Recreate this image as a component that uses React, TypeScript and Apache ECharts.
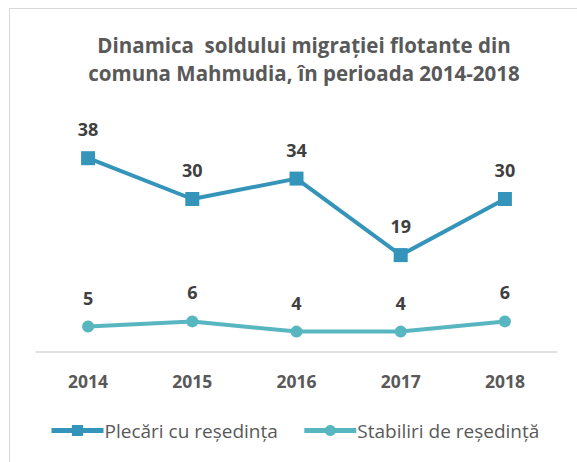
import React, { useEffect, useRef } from "react";
import * as echarts from "echarts";

const categories = ["2014", "2015", "2016", "2017", "2018"];
const plecari = [38, 30, 34, 19, 30];
const stabiliri = [5, 6, 4, 4, 6];
const seriesNames = ["Plecări cu reședința", "Stabiliri de reședință"];
const titleLines = ["Dinamica  soldului migrației flotante din", "comuna Mahmudia, în perioada 2014-2018"];

export default function App() {
  const ref = useRef<HTMLDivElement>(null);
  useEffect(() => {
    const chart = echarts.init(ref.current!, null, { renderer: "svg" });
    const font = "'Open Sans', sans-serif";
    chart.setOption({
      animation: false,
      backgroundColor: "#ffffff",
      graphic: [
        {
          type: "rect",
          shape: { x: 9.5, y: 8.5, width: 620, height: 500 },
          style: { fill: "none", stroke: "#d9d9d9", lineWidth: 1 },
          silent: true,
        },
      ],
      title: {
        text: titleLines.join("\n"),
        left: 299,
        textAlign: "center",
        top: 26,
        textStyle: {
          fontFamily: font,
          fontSize: 20.5,
          fontWeight: "bold",
          color: "#595959",
          lineHeight: 28,
        },
      },
      legend: {
        data: seriesNames,
        bottom: 17,
        left: 44,
        itemWidth: 52,
        itemHeight: 14,
        itemGap: 24,
        lineStyle: { width: 5 },
        textStyle: { fontFamily: font, fontSize: 19, color: "#595959", padding: [0, 0, 0, -4] },
      },
      grid: { left: 36, right: 20, top: 148, bottom: 110 },
      xAxis: {
        type: "category",
        data: categories,
        axisLine: { lineStyle: { color: "#d9d9d9", width: 1.5 } },
        axisTick: { show: false },
        axisLabel: {
          fontFamily: font,
          fontSize: 17.5,
          fontWeight: "bold",
          color: "#595959",
          margin: 20,
        },
      },
      yAxis: {
        type: "value",
        min: 0,
        max: 40,
        show: false,
        splitLine: { show: false },
      },
      series: [
        {
          name: seriesNames[0],
          type: "line",
          data: plecari,
          symbol: "rect",
          symbolSize: 14,
          lineStyle: { color: "#3494BA", width: 4 },
          itemStyle: { color: "#3494BA" },
          label: {
            show: true,
            position: "top",
            distance: 13,
            fontFamily: font,
            fontSize: 18,
            fontWeight: "bold",
            color: "#404040",
          },
        },
        {
          name: seriesNames[1],
          type: "line",
          data: stabiliri,
          symbol: "circle",
          symbolSize: 12,
          lineStyle: { color: "#58B6C0", width: 4 },
          itemStyle: { color: "#58B6C0" },
          label: {
            show: true,
            position: "top",
            distance: 14,
            fontFamily: font,
            fontSize: 18,
            fontWeight: "bold",
            color: "#404040",
          },
        },
      ],
    });
    return () => chart.dispose();
  }, []);
  return (
    <div
      ref={ref}
      style={{ position: "absolute", left: 0, top: 0, width: 577, height: 462 }}
    />
  );
}
